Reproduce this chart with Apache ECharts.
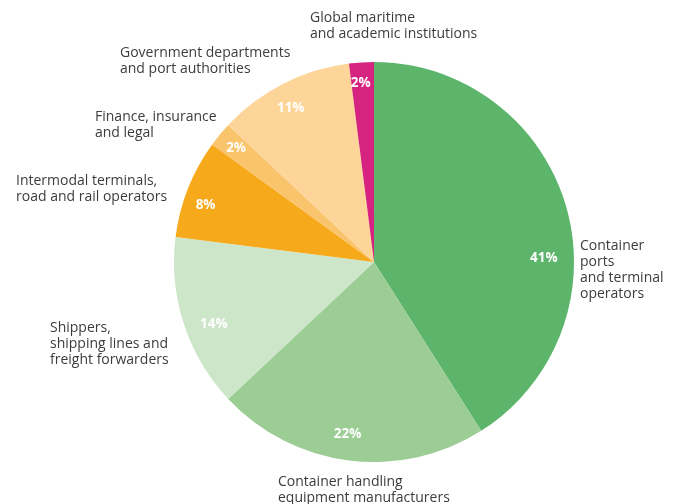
<!DOCTYPE html>
<html><head><meta charset="utf-8">
<script src="https://cdn.jsdelivr.net/npm/echarts@6/dist/echarts.min.js"></script>
<style>html,body{margin:0;padding:0;background:#fff}#c{width:676px;height:504px}</style>
</head><body><div id="c"></div>
<script>
const categories = [
  "Container\nports\nand terminal\noperators",
  "Container handling\nequipment manufacturers",
  "Shippers,\nshipping lines and\nfreight forwarders",
  "Intermodal terminals,\nroad and rail operators",
  "Finance, insurance\nand legal",
  "Government departments\nand port authorities",
  "Global maritime\nand academic institutions"
];
const values = [41, 22, 14, 8, 2, 11, 2];
const colors = ["#5db56b", "#9ccd95", "#cde5c9", "#f6aa1b", "#fac46d", "#fdd598", "#d6237f"];
// outside label anchor (top-left of text block)
const labelPos = [[580,238],[278,474],[50,320],[16,173],[95,109],[120,45],[310,10]];
// inner percentage label nudges
const pctShift = [[-2,46],[-4,-5],[10,7],[-2,9],[0,0],[-2,6],[-2,0]];

const data = categories.map((n,i)=>({name:n, value:values[i], itemStyle:{color:colors[i]}}));
const center = [374, 262];
const chart = echarts.init(document.getElementById('c'), null, {renderer:'canvas'});
chart.setOption({
  animation:false,
  series:[
    {type:'pie', center:center, radius:[0,200], startAngle:90, clockwise:true,
     data:data, label:{show:false}, labelLine:{show:false}, silent:true,
     itemStyle:{borderWidth:0}},
    {type:'pie', center:center, radius:[152,200], startAngle:90, clockwise:true,
     data:data.map(d=>({name:d.name,value:d.value,itemStyle:{color:'rgba(0,0,0,0)'}})),
     silent:true, labelLine:{show:false},
     label:{show:true, position:'inside', formatter:'{c}%', color:'#fff',
            fontFamily:'Open Sans', fontWeight:'bold', fontSize:13.5},
     labelLayout:(p)=>({dx:pctShift[p.dataIndex][0], dy:pctShift[p.dataIndex][1]})},
    {type:'pie', center:center, radius:[0,200], startAngle:90, clockwise:true,
     data:data.map(d=>({name:d.name,value:d.value,itemStyle:{color:'rgba(0,0,0,0)'}})),
     silent:true, labelLine:{show:false},
     label:{show:true, position:'outside', formatter:'{b}', color:'#3c3c3c',
            fontFamily:'Open Sans', fontSize:14, lineHeight:16, align:'left',
            overflow:'none', width:300},
     labelLayout:(p)=>({x:labelPos[p.dataIndex][0], y:labelPos[p.dataIndex][1], align:'left', verticalAlign:'top'})}
  ]
});
</script></body></html>
